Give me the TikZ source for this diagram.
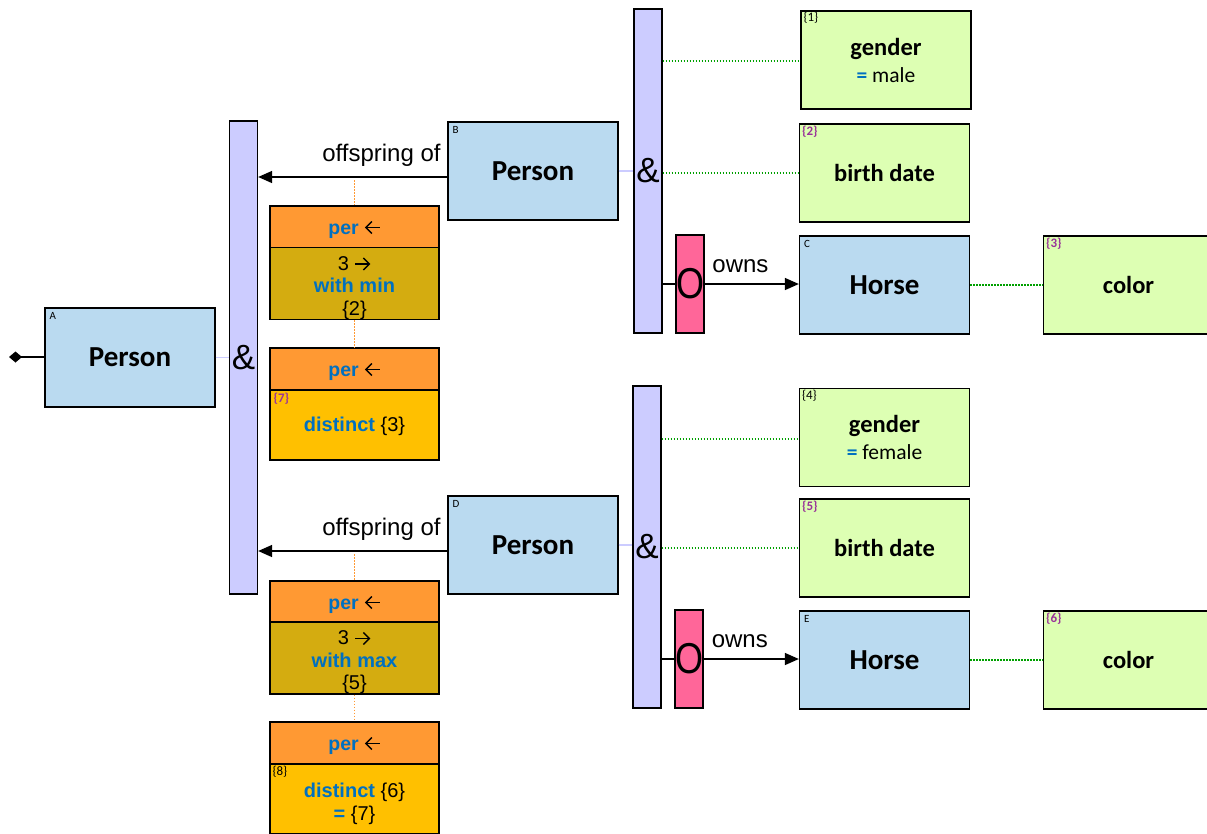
\documentclass[tikz,border=0pt]{standalone}
\usepackage{fontspec}
\usepackage{graphicx}
\setmainfont{Carlito}
\newfontfamily\arialf{Liberation Sans}
\usetikzlibrary{arrows.meta}
\newcommand{\rarr}{\tikz[baseline=-6.5pt]\draw[line width=1.4pt, -{Straight Barb[length=6pt,width=12pt]}] (0pt,0pt) -- (15pt,0pt);}
\newcommand{\larr}{\tikz[baseline=-6.5pt]\draw[line width=1.4pt, {Straight Barb[length=6pt,width=12pt]}-] (0pt,0pt) -- (15pt,0pt);}
\definecolor{entblue}{RGB}{186,218,240}
\definecolor{attrgreen}{RGB}{221,255,179}
\definecolor{barlav}{RGB}{204,204,255}
\definecolor{pinkc}{RGB}{255,102,153}
\definecolor{orangeh}{RGB}{255,153,51}
\definecolor{darkgold}{RGB}{212,172,16}
\definecolor{goldc}{RGB}{255,192,0}
\definecolor{tblue}{RGB}{0,112,192}
\definecolor{purplec}{RGB}{153,51,153}
\definecolor{dotgreenc}{RGB}{0,160,0}
\begin{document}
\begin{tikzpicture}[x=1pt,y=-1pt,
 ent/.style={draw=black, line width=1.3pt, fill=entblue, minimum width=170pt, minimum height=98pt, inner sep=0pt, font=\bfseries\fontsize{29}{34}\selectfont},
 attr/.style={draw=black, line width=1.3pt, fill=attrgreen, minimum width=170pt, minimum height=98pt, inner sep=0pt, align=center, font=\fontsize{24.5}{27}\selectfont},
 bar/.style={draw=black, line width=1.3pt, fill=barlav, minimum width=28pt, inner sep=0pt, font=\arialf\fontsize{35}{40}\selectfont},
 orbox/.style={draw=black, line width=1.3pt, fill=pinkc, minimum width=28pt, minimum height=98pt, inner sep=0pt, font=\arialf\fontsize{36}{40}\selectfont},
 perhead/.style={draw=black, line width=1.3pt, fill=orangeh, minimum width=169pt, minimum height=42pt, inner sep=0pt, text height=16pt, text depth=2pt, font=\arialf\fontsize{19.5}{22}\selectfont},
 perbody/.style={draw=black, line width=1.3pt, minimum width=169pt, minimum height=70pt, inner sep=0pt, align=center, font=\arialf\fontsize{20}{22.5}\selectfont},
 tag/.style={anchor=north west, inner sep=0pt, font=\fontsize{13}{14}\selectfont},
 ptag/.style={anchor=north west, inner sep=0pt, text=purplec, font=\bfseries\fontsize{13}{14}\selectfont},
 conn/.style={line width=1.5pt, draw=black},
 arr/.style={conn, -{Triangle[length=14pt,width=12pt]}},
 faint/.style={line width=1.5pt, draw=barlav},
 dotg/.style={line width=1.5pt, draw=dotgreenc, dash pattern=on 1.5pt off 1.5pt},
 doto/.style={line width=1.3pt, draw=orangeh, dash pattern=on 1.5pt off 1.5pt},
 elabel/.style={inner sep=2pt, font=\arialf\fontsize{24}{28}\selectfont},
]
\useasboundingbox (0,0) rectangle (1207,833);
\clip (0,0) rectangle (1207,833);

% entity boxes
\node[ent, minimum height=99pt] (A) at (130,357.5) {Person};
\node[tag, font=\fontsize{11}{12}\selectfont] (tA) at ([shift={(5,5)}]A.north west) {A};
\node[ent] (B) at (533,171) {Person};
\node[tag, font=\fontsize{11}{12}\selectfont] (tB) at ([shift={(5,5)}]B.north west) {B};
\node[ent] (D) at (533,545) {Person};
\node[tag, font=\fontsize{11}{12}\selectfont] (tD) at ([shift={(5,5)}]D.north west) {D};
\node[ent] (C) at (884.5,285) {Horse};
\node[tag, font=\fontsize{11}{12}\selectfont] (tC) at ([shift={(5,5)}]C.north west) {C};
\node[ent] (E) at (884.5,660) {Horse};
\node[tag, font=\fontsize{11}{12}\selectfont] (tE) at ([shift={(5,5)}]E.north west) {E};

% attribute boxes
\node[attr] (g1) at (886,60) {\bfseries gender\\{\fontsize{21.5}{26}\selectfont\textcolor{tblue}{\bfseries =} male}};
\node[tag] (t1) at ([shift={(3,2)}]g1.north west) {\{1\}};
\node[attr] (bd2) at (884.5,173) {\bfseries birth date};
\node[ptag] (t2) at ([shift={(3,2)}]bd2.north west) {\{2\}};
\node[attr] (c3) at (1128.5,285) {\bfseries color};
\node[ptag] (t3) at ([shift={(3,2)}]c3.north west) {\{3\}};
\node[attr] (g4) at (884.5,437.5) {\bfseries gender\\{\fontsize{21.5}{26}\selectfont\textcolor{tblue}{\bfseries =} female}};
\node[tag] (t4) at ([shift={(3,2)}]g4.north west) {\{4\}};
\node[attr] (bd5) at (884.5,548) {\bfseries birth date};
\node[ptag] (t5) at ([shift={(3,2)}]bd5.north west) {\{5\}};
\node[attr] (c6) at (1128.5,660) {\bfseries color};
\node[ptag] (t6) at ([shift={(3,2)}]c6.north west) {\{6\}};

% bars
\node[bar, minimum height=473pt] (andL) at (243.5,357.5) {\&};
\node[bar, minimum height=324pt] (andR1) at (648,171) {\&};
\node[bar, minimum height=322pt] (andR2) at (647,547) {\&};
\node[orbox] (O1) at (690,284) {\scalebox{1}[1.2]{O}};
\node[orbox] (O2) at (689,659) {\scalebox{1}[1.2]{O}};

% per boxes
\node[perhead] (P1h) at (354.5,227) {\textcolor{tblue}{\bfseries per} \larr};
\node[perbody, fill=darkgold, minimum height=71pt] (P1b) at (354.5,283.5) {\rule{0pt}{23pt}3 \rarr\\\textcolor{tblue}{\bfseries with min}\\\{2\}};
\node[perhead] (P2h) at (354.5,369) {\textcolor{tblue}{\bfseries per} \larr};
\node[perbody, fill=goldc] (P2b) at (354.5,425) {\rule{0pt}{18pt}\textcolor{tblue}{\bfseries distinct} \{3\}};
\node[ptag] (t7) at ([shift={(4,3)}]P2b.north west) {\{7\}};
\node[perhead] (P3h) at (354.5,602) {\textcolor{tblue}{\bfseries per} \larr};
\node[perbody, fill=darkgold] (P3b) at (354.5,658) {\rule{0pt}{23pt}3 \rarr\\\textcolor{tblue}{\bfseries with max}\\\{5\}};
\node[perhead] (P4h) at (354.5,743) {\textcolor{tblue}{\bfseries per} \larr};
\node[perbody, fill=goldc] (P4b) at (354.5,799) {\rule{0pt}{24pt}\textcolor{tblue}{\bfseries distinct} \{6\}\\\textcolor{tblue}{\bfseries =} \{7\}};
\node[tag] (t8) at ([shift={(3,3)}]P4b.north west) {\{8\}};

% connectors
\coordinate (dia) at (9,357);
\draw[conn, {Diamond[length=13pt,width=11pt]}-] (dia) -- (dia -| A.west);
\draw[faint] (A.east) -- (A.east -| andL.west);
\draw[faint] (B.east) -- (B.east -| andR1.west);
\draw[faint] (D.east) -- (D.east -| andR2.west);

\draw[arr] ([yshift=-6pt]B.west) -- ([yshift=-6pt]B.west -| andL.east)
  node[pos=0, elabel, anchor=south east, xshift=-4pt, yshift=8pt] (l1) {offspring of};
\draw[arr] ([yshift=-6pt]D.west) -- ([yshift=-6pt]D.west -| andL.east)
  node[pos=0, elabel, anchor=south east, xshift=-4pt, yshift=8pt] (l2) {offspring of};

\draw[dotg] ([yshift=-1pt]g1.west -| andR1.east) -- ([yshift=-1pt]g1.west);
\draw[dotg] (bd2.west -| andR1.east) -- (bd2.west);
\draw[conn] (O1.west -| andR1.east) -- (O1.west);
\draw[arr] (O1.east) -- (O1.east -| C.west) node[pos=0.38, elabel, above=9pt] (l3) {owns};
\draw[dotg] (C.east) -- (c3.west);

\draw[dotg] ([yshift=-1.5pt]g4.west -| andR2.east) -- ([yshift=-1.5pt]g4.west);
\draw[dotg] (bd5.west -| andR2.east) -- (bd5.west);
\draw[conn] (O2.west -| andR2.east) -- (O2.west);
\draw[arr] (O2.east) -- (O2.east -| E.west) node[pos=0.38, elabel, above=9pt] (l4) {owns};
\draw[dotg] (E.east) -- (c6.west);

\coordinate (o1) at (354.5,180);
\coordinate (o2) at (354.5,554);
\draw[doto] (o1) -- (P1h.north);
\draw[doto] (P1b.south) -- (P2h.north);
\draw[doto] (o2) -- (P3h.north);
\draw[doto] (P3b.south) -- (P4h.north);
\end{tikzpicture}
\end{document}
